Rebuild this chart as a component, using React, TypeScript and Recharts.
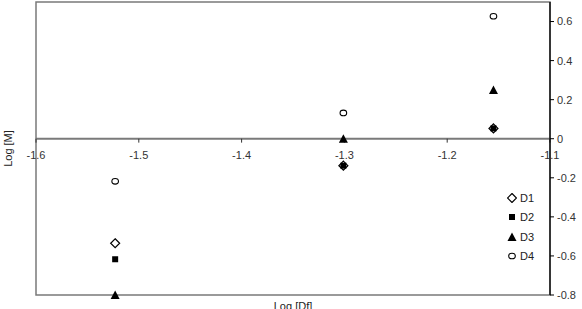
import { ScatterChart, Scatter, XAxis, YAxis, ReferenceLine, ReferenceArea } from "recharts";

// log of flow concentration (x) for each measurement point
const logDf = [-1.523, -1.301, -1.155];
const d1 = [-0.535, -0.138, 0.053];
const d2 = [-0.617, -0.138, 0.053];
const d3 = [-0.8, 0.0, 0.25];
const d4 = [-0.218, 0.132, 0.627];

const xTicks = [-1.6, -1.5, -1.4, -1.3, -1.2, -1.1];
const yTicks = [-0.8, -0.6, -0.4, -0.2, 0, 0.2, 0.4, 0.6];

const FONT = "'Liberation Sans', Arial, sans-serif";
const GREY = "#7a7a7a";

type Kind = "diamond" | "square" | "triangle" | "circle";

function marker(kind: Kind, cx: number, cy: number) {
  switch (kind) {
    case "diamond":
      return <path d={`M${cx},${cy - 4.5}L${cx + 4.5},${cy}L${cx},${cy + 4.5}L${cx - 4.5},${cy}Z`} fill="#fff" stroke="#000" strokeWidth={1.2} />;
    case "square":
      return <rect x={cx - 3} y={cy - 3} width={6} height={6} fill="#000" />;
    case "triangle":
      return <path d={`M${cx},${cy - 4.5}L${cx + 4.5},${cy + 4}L${cx - 4.5},${cy + 4}Z`} fill="#000" />;
    default:
      return <ellipse cx={cx} cy={cy} rx={3.3} ry={2.8} fill="#fff" stroke="#000" strokeWidth={1.1} />;
  }
}

const series: { name: string; values: number[]; kind: Kind }[] = [
  { name: "D1", values: d1, kind: "diamond" },
  { name: "D2", values: d2, kind: "square" },
  { name: "D3", values: d3, kind: "triangle" },
  { name: "D4", values: d4, kind: "circle" },
];

function LegendBox() {
  return (
    <div style={{ position: "absolute", left: 507, top: 188, fontFamily: FONT, fontSize: 11, color: "#222" }}>
      {series.map((s) => (
        <div key={s.name} style={{ display: "flex", alignItems: "center", height: 19.5 }}>
          <svg width={10} height={10} style={{ marginRight: 3 }}>
            {marker(s.kind, 5, 5)}
          </svg>
          <span>{s.name}</span>
        </div>
      ))}
    </div>
  );
}

export default function App() {
  return (
    <div style={{ position: "absolute", left: 0, top: 0, width: 582, height: 309, background: "#fff", fontFamily: FONT, overflow: "hidden" }}>
      <ScatterChart width={582} height={309} margin={{ top: 2, right: 0, bottom: 0, left: 0 }}>
        <XAxis
          type="number"
          dataKey="x"
          domain={[-1.6, -1.1]}
          ticks={xTicks}
          tick={false}
          tickLine={false}
          axisLine={false}
          height={14}
          label={{ value: "Log [Df]", position: "insideBottom", offset: -1, fill: "#222", fontSize: 11 }}
        />
        <YAxis
          yAxisId="left"
          type="number"
          dataKey="y"
          domain={[-0.8, 0.7]}
          orientation="left"
          width={36}
          tick={false}
          tickLine={false}
          axisLine={false}
          label={{
            content: ({ viewBox }: any) => (
              <text
                x={viewBox.x + 8}
                y={viewBox.y + viewBox.height / 2}
                transform={`rotate(-90, ${viewBox.x + 8}, ${viewBox.y + viewBox.height / 2})`}
                textAnchor="middle"
                dominantBaseline="central"
                fontSize={11}
                fill="#222"
              >
                Log [M]
              </text>
            ),
          }}
        />
        <YAxis
          type="number"
          dataKey="y"
          domain={[-0.8, 0.7]}
          ticks={yTicks}
          orientation="right"
          width={32}
          tickSize={4}
          tickMargin={3}
          axisLine={{ stroke: "#000", strokeWidth: 1.3 }}
          tickLine={{ stroke: "#000" }}
          tick={{ fill: "#333", fontSize: 11, textAnchor: "start" }}
          tickFormatter={(v: number) => String(Math.round(v * 10) / 10)}
        />
        <ReferenceArea x1={-1.6} x2={-1.1} y1={-0.8} y2={0.7} fill="none" stroke={GREY} strokeWidth={1.5} />
        <ReferenceLine y={0} stroke={GREY} strokeWidth={2} />
        {xTicks.map((t) => (
          <ReferenceLine
            key={t}
            segment={[
              { x: t, y: 0 },
              { x: t, y: -0.02 },
            ]}
            stroke="#333"
            label={{ value: String(t), position: "bottom", offset: 9, fill: "#333", fontSize: 11 }}
          />
        ))}
        {series.map((s) => (
          <Scatter
            key={s.name}
            name={s.name}
            data={logDf.map((x, i) => ({ x, y: s.values[i] }))}
            isAnimationActive={false}
            shape={(p: any) => marker(s.kind, p.cx, p.cy)}
          />
        ))}
      </ScatterChart>
      <LegendBox />
    </div>
  );
}
